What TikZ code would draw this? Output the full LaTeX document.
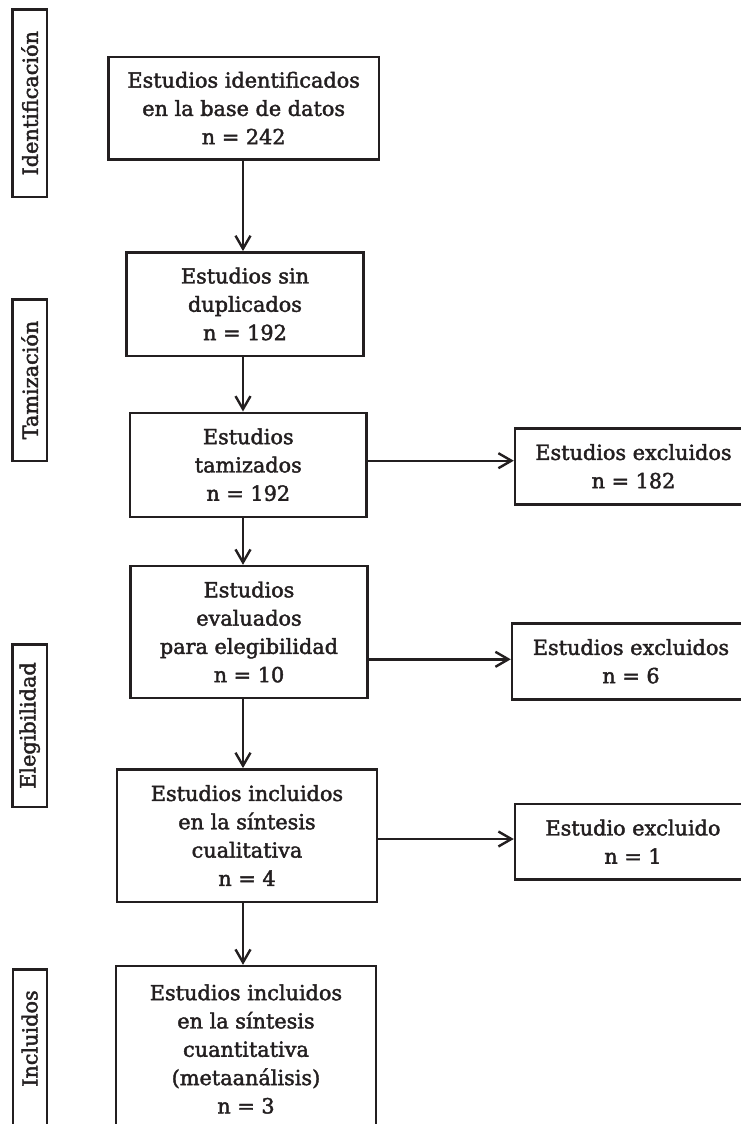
\documentclass[tikz,border=0pt]{standalone}
\usepackage{fontspec}
\setmainfont{DejaVu Serif}
\usetikzlibrary{arrows.meta}
\definecolor{ink}{HTML}{231F20}
\begin{document}
\begin{tikzpicture}[x=1bp,y=-1bp,
  box/.style={draw=ink, line width=2.4bp, text=ink, align=center, inner sep=0pt,
    font=\fontsize{20.8bp}{28.3bp}\selectfont\addfontfeature{FakeBold=2}},
  stage/.style={box, rotate=90, minimum height=34bp},
  arr/.style={draw=ink, line width=2.4bp, -{Straight Barb[length=13bp,width=15bp]}}]
\useasboundingbox (0,0) rectangle (741,1124);
\clip (0,0) rectangle (741,1124);

% stage labels
\node[stage, minimum width=187.7bp] (L1) at (29.7,103.2) {Identificación};
\node[stage, minimum width=161.4bp] (L2) at (29.7,380) {Tamización};
\node[stage, minimum width=162.4bp] (L3) at (29.7,725.5) {Elegibilidad};
\node[stage, draw=none] (L4) at (29.7,1038.5) {Incluidos};
\draw[draw=ink, line width=2.4bp] (12.7,1160) -- (12.7,969.3) -- (46.7,969.3) -- (46.7,1160);

% main column
\node[box, minimum width=270.7bp, minimum height=102.6bp] (b1) at (243.7,108)
  {Estudios identificados\\en la base de datos\\n = 242};
\node[box, minimum width=236.6bp, minimum height=103.4bp] (b2) at (245,304)
  {Estudios sin\\duplicados\\n = 192};
\node[box, minimum width=236.7bp, minimum height=104bp] (b3) at (248.3,464.7)
  {Estudios\\tamizados\\n = 192};
\node[box, minimum width=236.6bp, minimum height=132bp] (b4) at (249,632)
  {Estudios\\evaluados\\para elegibilidad\\n = 10};
\node[box, minimum width=259.4bp, minimum height=132.4bp] (b5) at (247,835.5)
  {Estudios incluidos\\en la síntesis\\cualitativa\\n = 4};
\node[box, minimum width=260bp, minimum height=166bp] (b6) at (246,1049)
  {Estudios incluidos\\en la síntesis\\cuantitativa\\(metaanálisis)\\n = 3};

% excluded column
\node[box, minimum width=237bp, minimum height=76bp] (r1) at (633.5,466.3)
  {Estudios excluidos\\n = 182};
\node[box, minimum width=238bp, minimum height=76bp] (r2) at (631,661.3)
  {Estudios excluidos\\n = 6};
\node[box, minimum width=236bp, minimum height=75.3bp] (r3) at (633,841.7)
  {Estudio excluido\\n = 1};

% connectors
\coordinate (ax) at (243,0);
\coordinate (h1) at (0,460.7);
\coordinate (h2) at (0,659.3);
\coordinate (h3) at (0,839);
\draw[arr] (b1.south -| ax) -- (b2.north -| ax);
\draw[arr] (b2.south -| ax) -- (b3.north -| ax);
\draw[arr] (b3.south -| ax) -- (b4.north -| ax);
\draw[arr] (b4.south -| ax) -- (b5.north -| ax);
\draw[arr] (b5.south -| ax) -- (b6.north -| ax);
\draw[arr] (b3.east |- h1) -- (r1.west |- h1);
\draw[arr] (b4.east |- h2) -- (r2.west |- h2);
\draw[arr] (b5.east |- h3) -- (r3.west |- h3);
\end{tikzpicture}
\end{document}
